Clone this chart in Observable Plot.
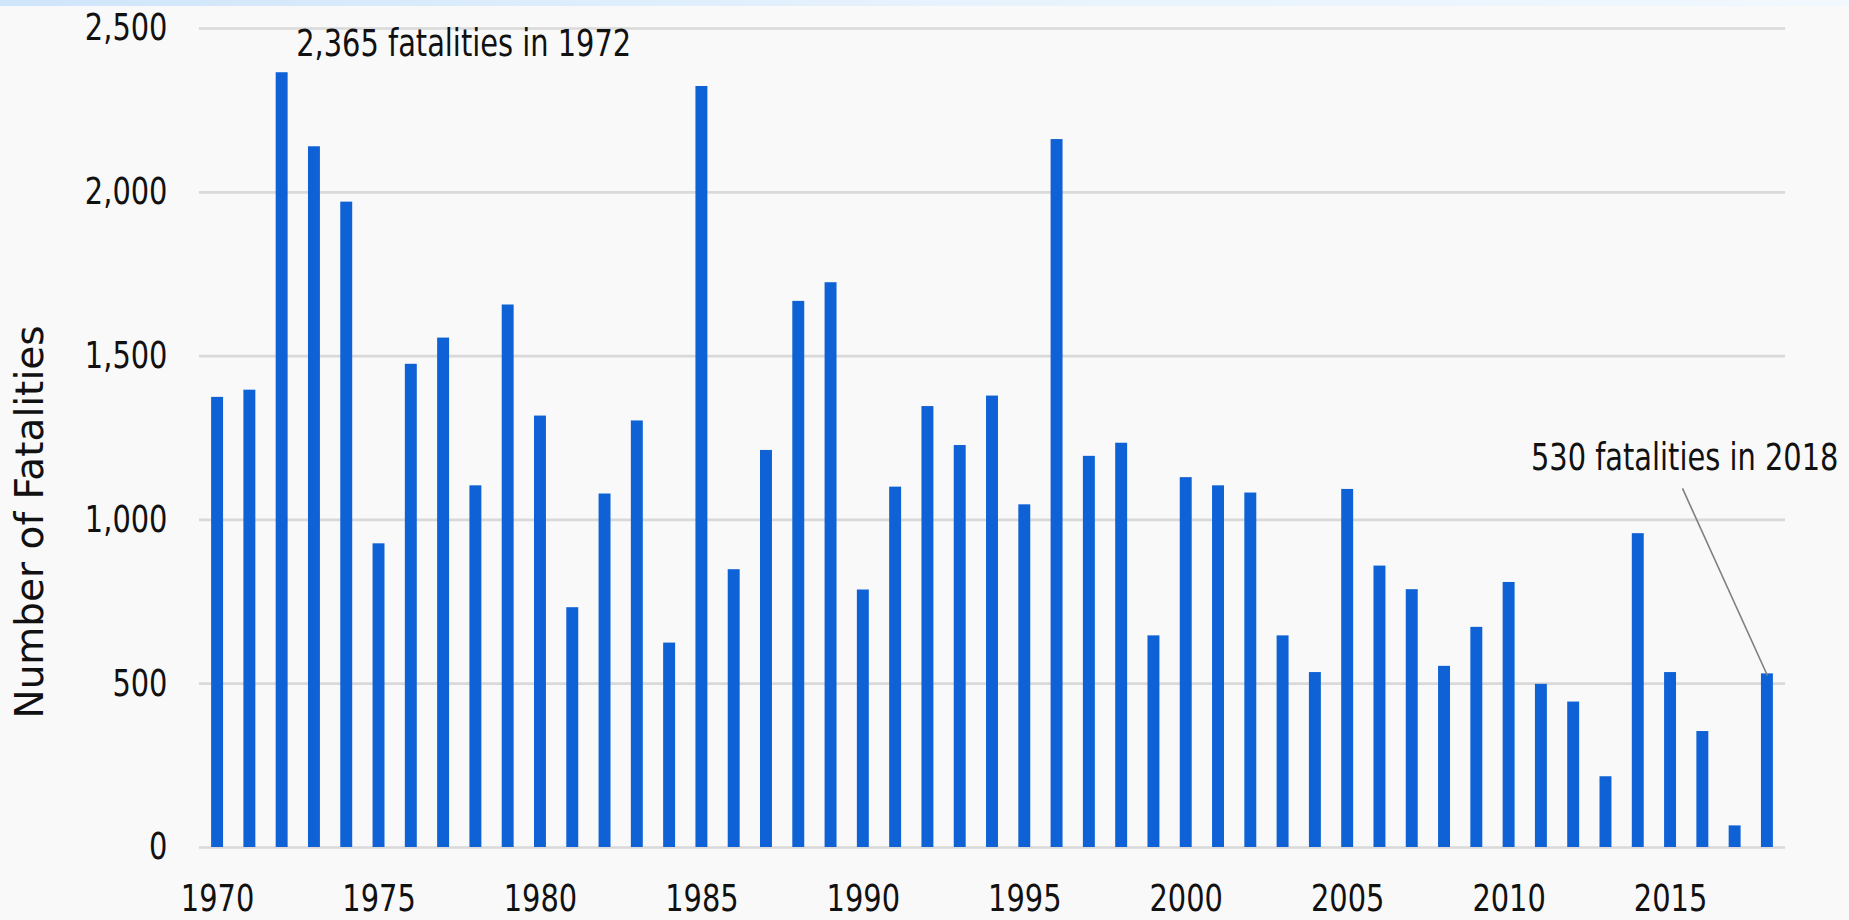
<!DOCTYPE html>
<html><head><meta charset="utf-8">
<script src="https://cdn.jsdelivr.net/npm/d3@7"></script>
<script src="https://cdn.jsdelivr.net/npm/@observablehq/plot@0.6"></script>
<style>
html,body{margin:0;padding:0;}
body{width:1849px;height:920px;overflow:hidden;background:#f9f9f9;position:relative;}
#band{position:absolute;left:0;top:0;width:1849px;height:6px;background:linear-gradient(90deg,#cfe5fa,#e6f2fd 50%,#f1f8fe);}
#chart{position:absolute;left:0;top:0;}
</style></head><body>
<div id="chart"></div><div id="band"></div>
<script>
const years = [1970,1971,1972,1973,1974,1975,1976,1977,1978,1979,
  1980,1981,1982,1983,1984,1985,1986,1987,1988,1989,
  1990,1991,1992,1993,1994,1995,1996,1997,1998,1999,
  2000,2001,2002,2003,2004,2005,2006,2007,2008,2009,
  2010,2011,2012,2013,2014,2015,2016,2017,2018];
const fatalities = [1374,1396,2365,2139,1970,927,1475,1555,1104,1656,
  1317,732,1079,1302,624,2323,848,1212,1667,1724,
  786,1100,1346,1227,1378,1046,2161,1194,1234,646,
  1129,1104,1082,646,534,1093,859,787,553,672,
  809,498,444,216,958,534,354,66,530];
const xTicks = [1970,1975,1980,1985,1990,1995,2000,2005,2010,2015];
const yTicks = [0,500,1000,1500,2000,2500];
const yTitle = "Number of Fatalities";
const annoYears = [1972, 2018];
const annoLabels = ["2,365 fatalities in 1972", "530 fatalities in 2018"];
const annoLabelValues = [2451, 1190];
const leaderYears = [2015.37, 2018];
const leaderValues = [1096, 525];

const data = years.map((year, i) => ({year, value: fatalities[i]}));
const annos = annoYears.map((year, i) => ({year, value: annoLabelValues[i], label: annoLabels[i]}));
const leader = [{x1: leaderYears[0], y1: leaderValues[0], x2: leaderYears[1], y2: leaderValues[1]}];

const narrow = "'Liberation Sans Narrow', 'DejaVu Sans Condensed', sans-serif";
const FS = 37;          // font size of tick labels and notes
const SX = 0.868;       // horizontal squeeze to match the narrow face of the original

const chart = Plot.plot({
  width: 1849,
  height: 920,
  marginLeft: 199,
  marginRight: 64,
  marginTop: 28,
  marginBottom: 73,
  style: {fontFamily: narrow, fontSize: FS + "px", color: "#111", background: "transparent"},
  x: {type: "linear", domain: [1969.44, 2018.56], ticks: xTicks, tickFormat: d => String(d), tickSize: 0, tickPadding: 37, label: null},
  y: {domain: [0, 2500], ticks: yTicks, tickFormat: d3.format(","), tickSize: 0, tickPadding: 32, label: null},
  marks: [
    Plot.gridY(yTicks, {stroke: "#d9d9d9", strokeOpacity: 1, strokeWidth: 2.7}),
    Plot.rectY(data, {x1: d => d.year - 0.185, x2: d => d.year + 0.185, y1: 0, y2: "value", fill: "#0f62d6"}),
    Plot.link(leader, {x1: "x1", y1: "y1", x2: "x2", y2: "y2", stroke: "#7f7f7f", strokeWidth: 1.6}),
    Plot.text([annos[0]], {x: "year", y: "value", text: "label", textAnchor: "start", dx: 14, fontSize: FS, fill: "#111"}),
    Plot.text([annos[1]], {x: "year", y: "value", text: "label", textAnchor: "end", dx: 71, fontSize: FS, fill: "#111"}),
    Plot.text([yTitle], {frameAnchor: "left", text: d => d, rotate: -90, textAnchor: "middle", lineAnchor: "middle", dx: -169, dy: 84, fontFamily: "'DejaVu Sans', sans-serif", fontSize: 39, fill: "#111"})
  ]
});
document.getElementById("chart").appendChild(chart);

// squeeze the narrow-font texts horizontally about their anchor point
const NS = "http://www.w3.org/2000/svg";
Array.from(chart.querySelectorAll("text")).forEach(t => {
  const tr = t.getAttribute("transform") || "";
  if (tr.includes("rotate")) return;
  const anchor = getComputedStyle(t).textAnchor;
  const g = document.createElementNS(NS, "g");
  t.parentNode.insertBefore(g, t);
  g.appendChild(t);
  const b = g.getBBox();
  const ax = anchor === "end" ? b.x + b.width : anchor === "middle" ? b.x + b.width / 2 : b.x;
  g.setAttribute("transform", `translate(${ax},0) scale(${SX},1) translate(${-ax},0)`);
});
</script>
</body></html>
